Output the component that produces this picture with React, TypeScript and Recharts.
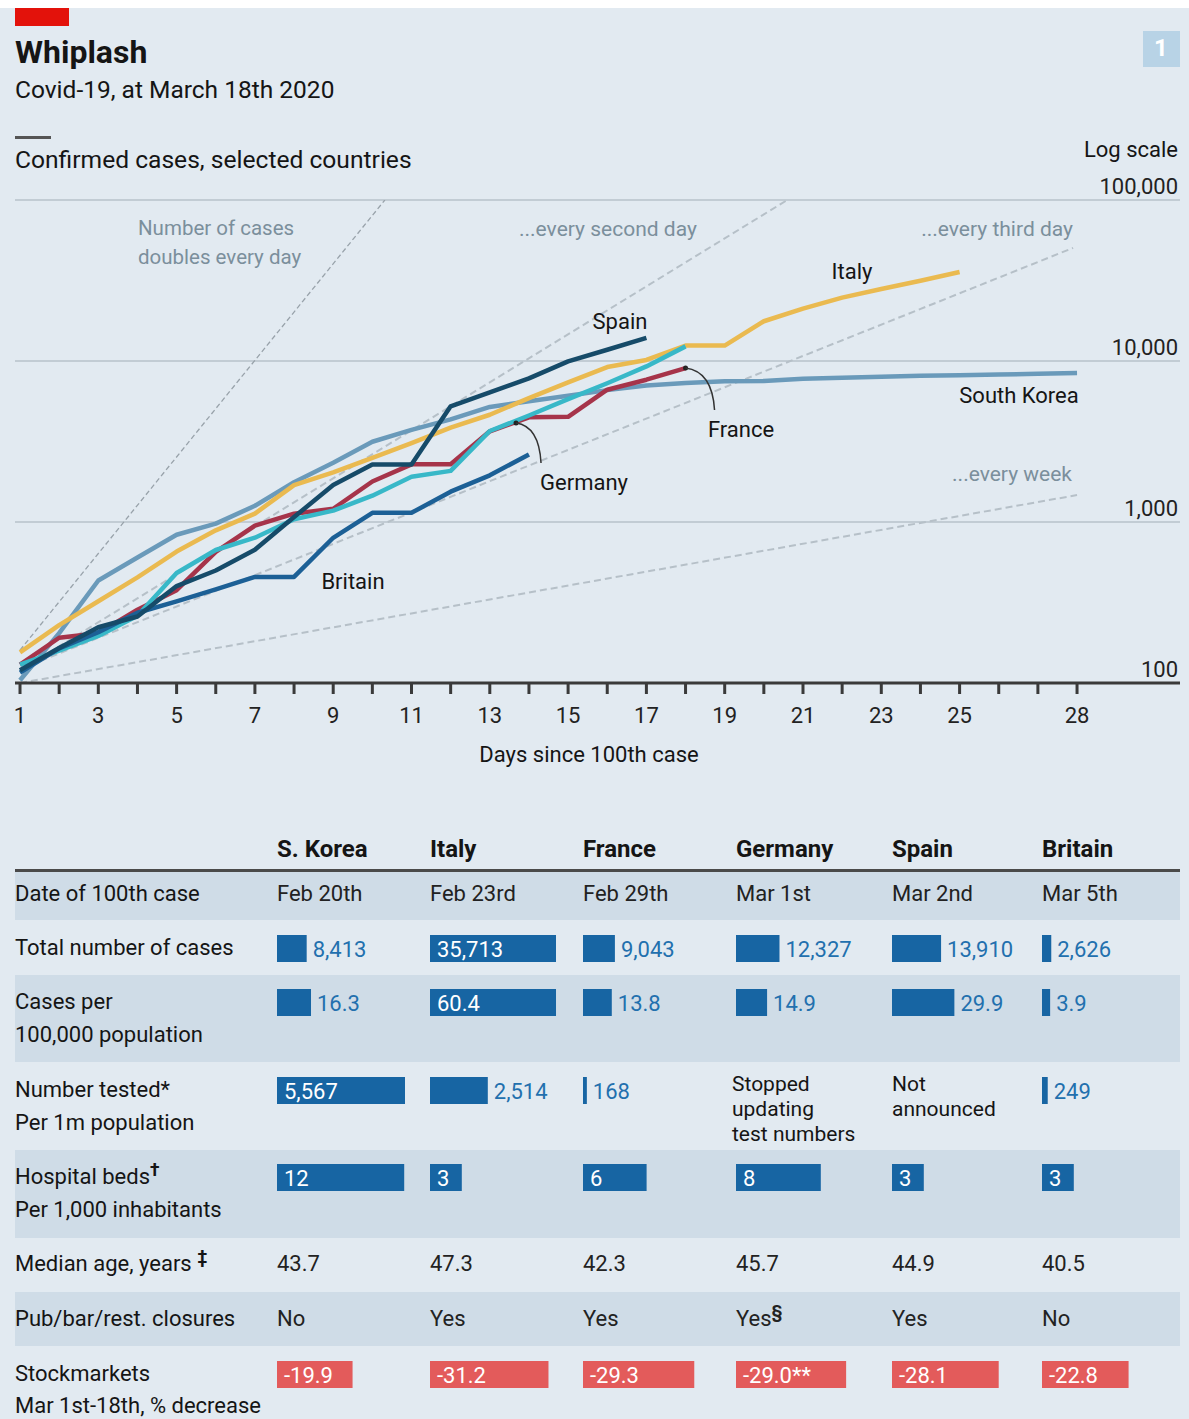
import React from "react";
import {
  LineChart,
  Line,
  XAxis,
  YAxis,
  ReferenceLine,
  ReferenceDot,
  BarChart,
  Bar,
  LabelList,
} from "recharts";

const FONT = "Roboto, 'Noto Sans', sans-serif";
const PAGE_BG = "#e2eaf1";
const BAND_BG = "#cfdce7";
const INK = "#151515";
const NOTE = "#7b8f9c";
const BAR_BLUE = "#1765a3";
const LABEL_BLUE = "#2270ae";
const BAR_RED = "#e35b5b";

// days since the 100th case
const days = [1, 2, 3, 4, 5, 6, 7, 8, 9, 10, 11, 12, 13, 14, 15, 16, 17, 18, 19, 20, 21, 22, 23, 24, 25, 26, 27, 28];

// confirmed cases
const southKoreaCases = [104, 204, 433, 602, 833, 977, 1261, 1766, 2337, 3150, 3736, 4335, 5186, 5621, 6088, 6593, 7041, 7313, 7478, 7513, 7755, 7869, 7979, 8086, 8162, 8236, 8320, 8413];
const italyCases = [155, 229, 322, 453, 655, 888, 1128, 1694, 2036, 2502, 3089, 3858, 4636, 5883, 7375, 9172, 10149, 12462, 12462, 17660, 21157, 24747, 27980, 31506, 35713];
const franceCases = [130, 191, 204, 285, 377, 653, 949, 1126, 1209, 1784, 2281, 2281, 3661, 4469, 4499, 6633, 7652, 9043];
const germanyCases = [130, 159, 196, 262, 482, 670, 799, 1040, 1176, 1457, 1908, 2078, 3675, 4585, 5795, 7272, 9257, 12327];
const britainCases = [116, 164, 207, 273, 321, 382, 456, 456, 798, 1140, 1140, 1543, 1950, 2626];
const spainCases = [120, 165, 222, 259, 400, 500, 673, 1073, 1695, 2277, 2277, 5232, 6391, 7798, 9942, 11748, 13910];

// dashed "doubling" guides (start and end points)
const guideEveryDay = [{ day: 1, v: 160 }, { day: 10.32, v: 100000 }];
const guideEverySecondDay = [{ day: 1, v: 120 }, { day: 20.6, v: 100000 }];
const guideEveryThirdDay = [{ day: 1, v: 122 }, { day: 27.9, v: 50400 }];
const guideEveryWeek = [{ day: 1, v: 100 }, { day: 28, v: 1470 }];

const dayTicks = days;
const dayLabels = [1, 3, 5, 7, 9, 11, 13, 15, 17, 19, 21, 23, 25, 28];
const caseTicks = [100, 1000, 10000, 100000];

// table
const countries = ["S. Korea", "Italy", "France", "Germany", "Spain", "Britain"];
const date100th = ["Feb 20th", "Feb 23rd", "Feb 29th", "Mar 1st", "Mar 2nd", "Mar 5th"];
const totalCases = [8413, 35713, 9043, 12327, 13910, 2626];
const casesPer100k = [16.3, 60.4, 13.8, 14.9, 29.9, 3.9];
const testedPer1m = [5567, 2514, 168, null, null, 249];
const hospitalBeds = [12, 3, 6, 8, 3, 3];
const medianAge = ["43.7", "47.3", "42.3", "45.7", "44.9", "40.5"];
const closures = ["No", "Yes", "Yes", "Yes", "Yes", "No"];
const closureNotes = ["", "", "", "§", "", ""];
const stockChange = [-19.9, -31.2, -29.3, -29.0, -28.1, -22.8];
const stockNotes = ["", "", "", "**", "", ""];

const series = (vals: number[]) => vals.map((v, i) => ({ day: days[i], v }));

const countryLines = [
  { name: "South Korea", data: series(southKoreaCases), color: "#6a9aba" },
  { name: "Italy", data: series(italyCases), color: "#eaba50" },
  { name: "France", data: series(franceCases), color: "#a6344a" },
  { name: "Germany", data: series(germanyCases), color: "#38b8c8" },
  { name: "Britain", data: series(britainCases), color: "#1c6096" },
  { name: "Spain", data: series(spainCases), color: "#164b69" },
];

const colX = [277, 430, 583, 736, 892, 1042];

const fmtInt = (v: number) => v.toLocaleString("en-US");

function Txt({ x, y, children, size = 22, color = INK, weight = 400, align = "left" }: any) {
  const tx = align === "left" ? "0" : align === "right" ? "-100%" : "-50%";
  return (
    <div
      style={{
        position: "absolute",
        left: x,
        top: y,
        transform: `translate(${tx}, -50%)`,
        fontSize: size,
        color,
        fontWeight: weight,
        lineHeight: 1.15,
        whiteSpace: "nowrap",
      }}
    >
      {children}
    </div>
  );
}

function Sup({ children }: any) {
  return <span style={{ fontSize: "0.8em", fontWeight: 700, position: "relative", top: "-0.45em" }}>{children}</span>;
}

function DayTick(props: any) {
  const { x, y, payload } = props;
  const d = payload.value;
  return (
    <g>
      <line x1={x} x2={x} y1={y} y2={y + 11} stroke="#3a3a3a" strokeWidth={3} />
      {dayLabels.includes(d) && (
        <text x={x} y={y + 32} textAnchor="middle" dominantBaseline="central" fontSize={22} fontFamily={FONT} fill="#222">
          {d}
        </text>
      )}
    </g>
  );
}

function CaseTick(props: any) {
  const { x, y, payload } = props;
  return (
    <text x={x - 2} y={y - 14} textAnchor="end" dominantBaseline="central" fontSize={22} fontFamily={FONT} fill="#222">
      {fmtInt(payload.value)}
    </text>
  );
}

const pointer = (dx: number, dy: number) => (p: any) => {
  const { cx, cy } = p;
  return (
    <g>
      <circle cx={cx} cy={cy} r={2.5} fill="#222" />
      <path
        d={`M${cx},${cy} Q${cx + dx * 0.92},${cy + dy * 0.08} ${cx + dx},${cy + dy}`}
        fill="none"
        stroke="#333"
        strokeWidth={1.5}
      />
    </g>
  );
};

function CellBar({ value, label, full, color, inside }: any) {
  return (
    <BarChart
      width={150}
      height={30}
      data={[{ k: "v", value }]}
      layout="vertical"
      margin={{ top: 0, right: 0, bottom: 0, left: 0 }}
      barCategoryGap={0}
    >
      <XAxis type="number" domain={[0, full]} hide allowDataOverflow />
      <YAxis type="category" dataKey="k" hide />
      <Bar dataKey="value" fill={color} barSize={30} isAnimationActive={false}>
        <LabelList
          dataKey="value"
          content={(p: any) => {
            const x = Number(p.x);
            const y = Number(p.y);
            const w = Number(p.width);
            const h = Number(p.height);
            return (
              <text
                x={inside ? x + 7 : x + w + 6}
                y={y + h / 2 + 1}
                dominantBaseline="central"
                fontSize={22}
                fontFamily={FONT}
                fill={inside ? "#fff" : LABEL_BLUE}
              >
                {label}
              </text>
            );
          }}
        />
      </Bar>
    </BarChart>
  );
}

function BarRow({ values, labels, top, full, color, alwaysInside }: any) {
  const max = Math.max(...values.filter((v: any) => v != null));
  return (
    <>
      {values.map((v: number | null, i: number) =>
        v == null ? null : (
          <div key={i} style={{ position: "absolute", left: colX[i], top }}>
            <CellBar value={v} label={labels[i]} full={full} color={color} inside={alwaysInside || v / max > 0.9} />
          </div>
        )
      )}
    </>
  );
}

export default function App() {
  const stockMag = stockChange.map((v) => Math.abs(v));
  return (
    <div style={{ position: "absolute", left: 0, top: 0, width: 1189, height: 1419, background: "#fff", fontFamily: FONT, overflow: "hidden" }}>
      <div style={{ position: "absolute", left: 0, top: 8, width: 1189, height: 1411, background: PAGE_BG }} />

      {/* table row bands */}
      {[
        [872, 48],
        [975, 87],
        [1150, 88],
        [1292, 54],
      ].map(([t, h]) => (
        <div key={t} style={{ position: "absolute", left: 15, top: t, width: 1165, height: h, background: BAND_BG }} />
      ))}

      {/* main chart */}
      <div style={{ position: "absolute", left: 0, top: 0 }}>
        <LineChart width={1189} height={780} margin={{ top: 200, right: 9, bottom: 47, left: 15 }}>
          <XAxis
            dataKey="day"
            type="number"
            domain={[0.872, 30.63]}
            allowDataOverflow
            ticks={dayTicks}
            interval={0}
            tickSize={0}
            tickMargin={0}
            tickLine={false}
            axisLine={{ stroke: "#3a3a3a", strokeWidth: 3 }}
            tick={<DayTick />}
            height={50}
          />
          <YAxis
            type="number"
            scale="log"
            domain={[100, 100000]}
            allowDataOverflow
            ticks={caseTicks}
            orientation="right"
            mirror
            axisLine={false}
            tickLine={false}
            tickSize={0}
            tickMargin={0}
            tick={<CaseTick />}
          />
          {caseTicks.slice(1).map((t) => (
            <ReferenceLine key={t} y={t} stroke="#c2ccd4" strokeWidth={2} />
          ))}
          <Line data={guideEveryDay} dataKey="v" stroke="#98a2aa" strokeWidth={1.3} strokeDasharray="5 3" dot={false} isAnimationActive={false} />
          <Line data={guideEverySecondDay} dataKey="v" stroke="#b6c0c8" strokeWidth={2} strokeDasharray="7 4" dot={false} isAnimationActive={false} />
          <Line data={guideEveryThirdDay} dataKey="v" stroke="#b6c0c8" strokeWidth={2} strokeDasharray="7 4" dot={false} isAnimationActive={false} />
          <Line data={guideEveryWeek} dataKey="v" stroke="#b6c0c8" strokeWidth={2} strokeDasharray="7 4" dot={false} isAnimationActive={false} />
          {countryLines.map((c) => (
            <Line
              key={c.name}
              data={c.data}
              dataKey="v"
              name={c.name}
              stroke={c.color}
              strokeWidth={4.5}
              strokeLinejoin="round"
              dot={false}
              isAnimationActive={false}
            />
          ))}
          <ReferenceDot x={18} y={9043} r={0} ifOverflow="visible" shape={pointer(29, 42)} />
          <ReferenceDot x={13.67} y={4120} r={0} ifOverflow="visible" shape={pointer(25, 40)} />
        </LineChart>
      </div>

      {/* header */}
      <div style={{ position: "absolute", left: 15, top: 8, width: 54, height: 18, background: "#e3120b" }} />
      <Txt x={15} y={52} size={32} weight={700}>Whiplash</Txt>
      <Txt x={15} y={90} size={24.5}>Covid-19, at March 18th 2020</Txt>
      <div style={{ position: "absolute", left: 1143, top: 31, width: 37, height: 36, background: "#b8d3e6" }} />
      <Txt x={1161} y={49} size={24} weight={700} color="#fff" align="center">1</Txt>
      <div style={{ position: "absolute", left: 15, top: 136, width: 36, height: 3, background: "#555" }} />
      <Txt x={15} y={160} size={24.6}>Confirmed cases, selected countries</Txt>
      <Txt x={1178} y={150} size={22} align="right">Log scale</Txt>

      {/* chart annotations */}
      <Txt x={138} y={229} size={20.5} color={NOTE}>Number of cases</Txt>
      <Txt x={138} y={258} size={20.5} color={NOTE}>doubles every day</Txt>
      <Txt x={519} y={229} size={21} color={NOTE}>...every second day</Txt>
      <Txt x={1073} y={229} size={21} color={NOTE} align="right">...every third day</Txt>
      <Txt x={1072} y={474} size={21} color={NOTE} align="right">...every week</Txt>
      <Txt x={852} y={272} align="center">Italy</Txt>
      <Txt x={620} y={322} align="center">Spain</Txt>
      <Txt x={1019} y={396} align="center">South Korea</Txt>
      <Txt x={741} y={430} align="center">France</Txt>
      <Txt x={584} y={483} align="center">Germany</Txt>
      <Txt x={353} y={582} align="center">Britain</Txt>
      <Txt x={589} y={755} align="center">Days since 100th case</Txt>

      {/* table */}
      {countries.map((c, i) => (
        <Txt key={c} x={colX[i]} y={850} size={24} weight={700}>{c}</Txt>
      ))}
      <div style={{ position: "absolute", left: 15, top: 869, width: 1165, height: 3, background: "#4a4a4a" }} />

      <Txt x={15} y={894}>Date of 100th case</Txt>
      {date100th.map((d, i) => (
        <Txt key={i} x={colX[i]} y={894} color="#222">{d}</Txt>
      ))}

      <Txt x={15} y={948}>Total number of cases</Txt>
      <BarRow values={totalCases} labels={totalCases.map(fmtInt)} top={933} full={42515} color={BAR_BLUE} />

      <Txt x={15} y={1002}>Cases per</Txt>
      <Txt x={15} y={1035}>100,000 population</Txt>
      <BarRow values={casesPer100k} labels={casesPer100k.map((v) => v.toFixed(1))} top={987} full={71.9} color={BAR_BLUE} />

      <Txt x={15} y={1090}>Number tested*</Txt>
      <Txt x={15} y={1123}>Per 1m population</Txt>
      <BarRow values={testedPer1m} labels={testedPer1m.map((v) => (v == null ? "" : fmtInt(v)))} top={1075} full={6524} color={BAR_BLUE} />
      <Txt x={732} y={1084} size={21}>Stopped</Txt>
      <Txt x={732} y={1109} size={21}>updating</Txt>
      <Txt x={732} y={1134} size={21}>test numbers</Txt>
      <Txt x={892} y={1084} size={21}>Not</Txt>
      <Txt x={892} y={1109} size={21}>announced</Txt>

      <Txt x={15} y={1177}>Hospital beds<Sup>†</Sup></Txt>
      <Txt x={15} y={1210}>Per 1,000 inhabitants</Txt>
      <BarRow values={hospitalBeds} labels={hospitalBeds.map(String)} top={1162} full={14.15} color={BAR_BLUE} alwaysInside />

      <Txt x={15} y={1264}>Median age, years <Sup>‡</Sup></Txt>
      {medianAge.map((v, i) => (
        <Txt key={i} x={colX[i]} y={1264} color="#222">{v}</Txt>
      ))}

      <Txt x={15} y={1319}>Pub/bar/rest. closures</Txt>
      {closures.map((v, i) => (
        <Txt key={i} x={colX[i]} y={1319} color="#222">
          {v}
          {closureNotes[i] && <Sup>{closureNotes[i]}</Sup>}
        </Txt>
      ))}

      <Txt x={15} y={1374}>Stockmarkets</Txt>
      <Txt x={15} y={1406}>Mar 1st-18th, % decrease</Txt>
      <BarRow
        values={stockMag}
        labels={stockChange.map((v, i) => v.toFixed(1) + stockNotes[i])}
        top={1359}
        full={39.5}
        color={BAR_RED}
        alwaysInside
      />
    </div>
  );
}
